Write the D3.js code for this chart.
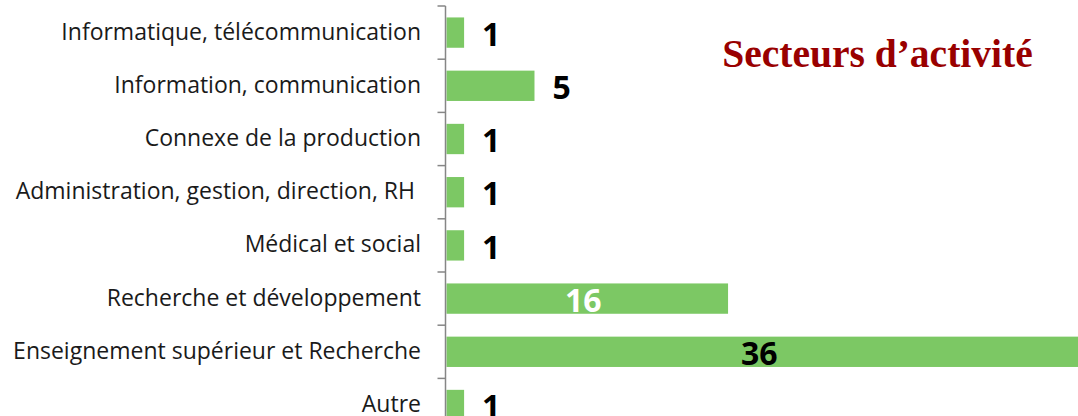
<!DOCTYPE html>
<html>
<head>
<meta charset="utf-8">
<script src="https://cdn.jsdelivr.net/npm/d3@7"></script>
<style>
  body { margin: 0; background: #fff; }
  svg { display: block; }
</style>
</head>
<body>
<div id="chart"></div>
<script>
const categories = [
    "Informatique, télécommunication",
    "Information, communication",
    "Connexe de la production",
    "Administration, gestion, direction, RH ",
    "Médical et social",
    "Recherche et développement",
    "Enseignement supérieur et Recherche",
    "Autre"
];
const values = [1, 5, 1, 1, 1, 16, 36, 1];
const title = "Secteurs d’activité";

const data = categories.map((c, i) => ({ cat: c, val: values[i] }));

const width = 1078, height = 416;
const axisX = 445.5;

const svg = d3.select("#chart").append("svg")
    .attr("width", width)
    .attr("height", height);

// band scale for the categories, x scale for counts
const y = d3.scaleBand()
    .domain(categories)
    .range([6, 6 + 53.2 * categories.length])
    .paddingInner(0.43)
    .paddingOuter(0.215);

const x = d3.scaleLinear()
    .domain([0, 36])
    .range([axisX + 1, 1080]);

// bars
svg.selectAll(".bar")
    .data(data)
    .enter()
    .append("rect")
    .attr("class", "bar")
    .attr("x", x(0))
    .attr("y", d => y(d.cat))
    .attr("width", d => x(d.val) - x(0))
    .attr("height", y.bandwidth())
    .style("fill", "#7cc864");

// axis on the left, ticks between the categories
const axis = svg.append("g").attr("transform", `translate(${axisX},0)`);
axis.append("line")
    .attr("y1", y.range()[0])
    .attr("y2", y.range()[1])
    .attr("stroke", "#868686")
    .attr("stroke-width", 1.5);
axis.selectAll(".tick")
    .data(d3.range(categories.length + 1))
    .enter()
    .append("line")
    .attr("x1", -8)
    .attr("x2", 0)
    .attr("y1", i => y.range()[0] + i * y.step())
    .attr("y2", i => y.range()[0] + i * y.step())
    .attr("stroke", "#868686")
    .attr("stroke-width", 1.5);

// category labels
svg.selectAll(".cat-label")
    .data(data)
    .enter()
    .append("text")
    .attr("class", "cat-label")
    .text(d => d.cat)
    .attr("x", 421)
    .attr("y", d => y(d.cat) + y.bandwidth() / 2 - 1)
    .attr("dy", "0.35em")
    .style("font-family", "'Open Sans', sans-serif")
    .style("font-size", "23px")
    .style("fill", "#1a1a1a")
    .style("text-anchor", "end")
    .style("white-space", "pre");

// value labels: outside for short bars, centred inside for long ones
const inside = d => d.val >= 10;
svg.selectAll(".val-label")
    .data(data)
    .enter()
    .append("text")
    .attr("class", "val-label")
    .text(d => d.val)
    .attr("x", d => inside(d) ? (x(0) + x(d.val)) / 2 - 4 : x(d.val) + 18)
    .attr("y", d => y(d.cat) + y.bandwidth() / 2 + 2)
    .attr("dy", "0.35em")
    .style("font-family", "'Noto Sans', sans-serif")
    .style("font-weight", 700)
    .style("font-size", "32px")
    .style("fill", d => d.val === 16 ? "#ffffff" : "#000000")
    .style("text-anchor", d => inside(d) ? "middle" : "start");

// title
svg.append("text")
    .text(title)
    .attr("x", 877.5)
    .attr("y", 67)
    .style("font-family", "'Liberation Serif', serif")
    .style("font-weight", 700)
    .style("font-size", "39.5px")
    .style("fill", "#990000")
    .style("text-anchor", "middle");
</script>
</body>
</html>
